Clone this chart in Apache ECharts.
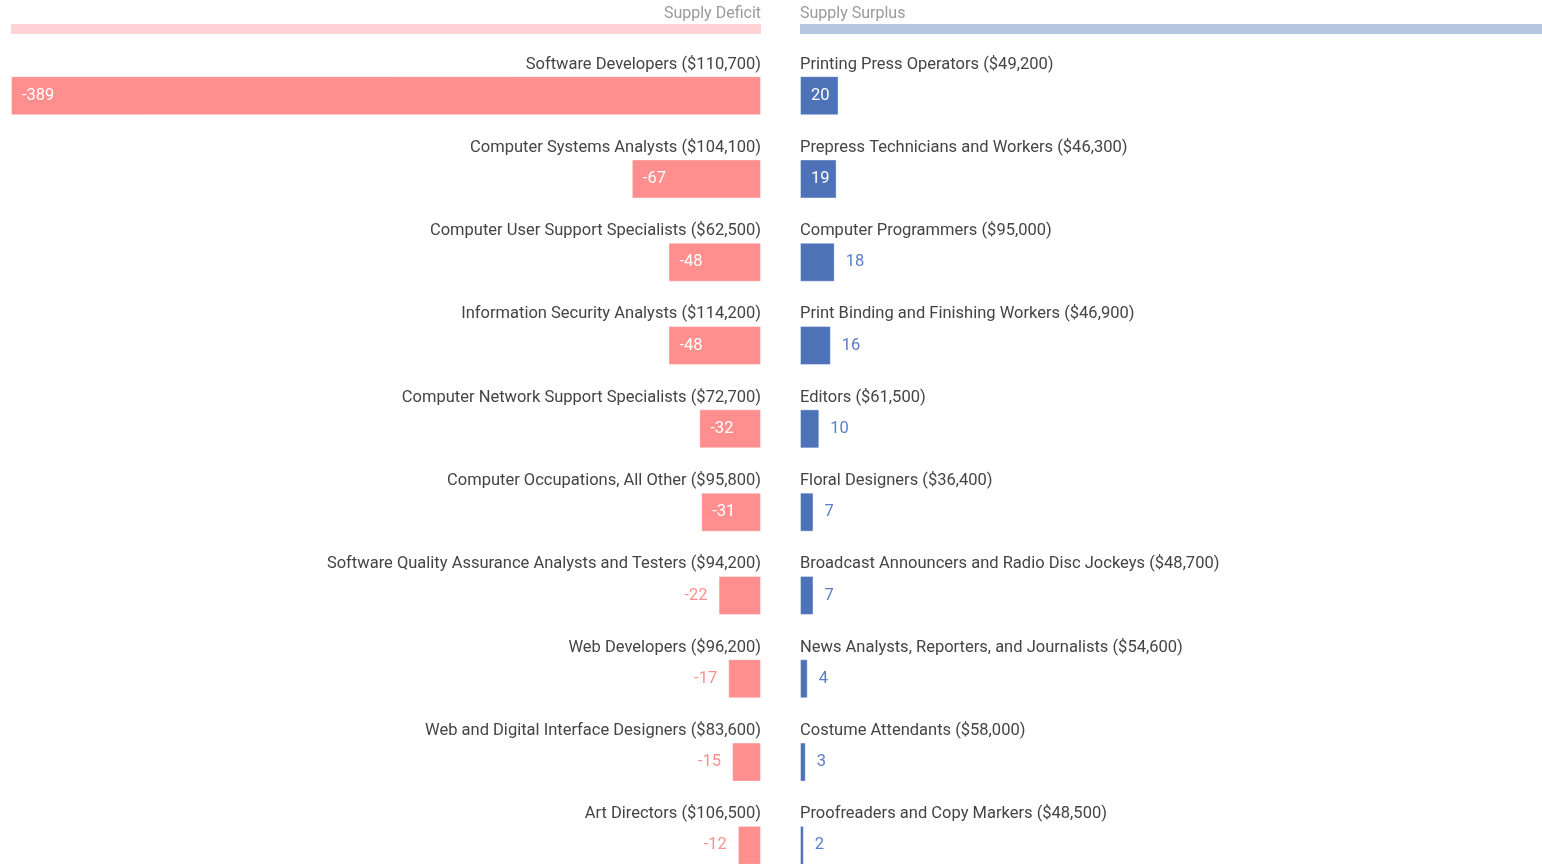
<!DOCTYPE html>
<html>
<head>
<meta charset="utf-8">
<style>
  html, body { margin: 0; padding: 0; background: #fff; }
  #chart { width: 1542px; height: 864px; }
</style>
<script src="https://cdn.jsdelivr.net/npm/echarts@6.0.0/dist/echarts.min.js"></script>
</head>
<body>
<div id="chart"></div>
<script>
// deficit side (left)
const deficitJobs = [
  'Software Developers', 'Computer Systems Analysts', 'Computer User Support Specialists',
  'Information Security Analysts', 'Computer Network Support Specialists', 'Computer Occupations, All Other',
  'Software Quality Assurance Analysts and Testers', 'Web Developers', 'Web and Digital Interface Designers',
  'Art Directors'
];
const deficitWages = [110700, 104100, 62500, 114200, 72700, 95800, 94200, 96200, 83600, 106500];
const deficitValues = [-389, -67, -48, -48, -32, -31, -22, -17, -15, -12];

// surplus side (right)
const surplusJobs = [
  'Printing Press Operators', 'Prepress Technicians and Workers', 'Computer Programmers',
  'Print Binding and Finishing Workers', 'Editors', 'Floral Designers',
  'Broadcast Announcers and Radio Disc Jockeys', 'News Analysts, Reporters, and Journalists',
  'Costume Attendants', 'Proofreaders and Copy Markers'
];
const surplusWages = [49200, 46300, 95000, 46900, 61500, 36400, 48700, 54600, 58000, 48500];
const surplusValues = [20, 19, 18, 16, 10, 7, 7, 4, 3, 2];

const PINK = '#ff8e8e';
const BLUE = '#4e72b8';
const FONT = 'Roboto';
const FS = 16.5;

const fmt = (name, wage) => name + ' ($' + wage.toLocaleString('en-US') + ')';
const deficitCats = deficitJobs.map((n, i) => fmt(n, deficitWages[i]));
const surplusCats = surplusJobs.map((n, i) => fmt(n, surplusWages[i]));

const gridTop = 54;
const gridHeight = 833;

function catAxis(gridIndex, cats, side) {
  return {
    type: 'category', gridIndex: gridIndex, data: cats, inverse: true,
    position: side, z: 10,
    axisLine: { show: false }, axisTick: { show: false },
    axisLabel: {
      inside: true, interval: 0, margin: 0, hideOverlap: false,
      fontFamily: FONT, fontSize: FS, color: '#444', lineHeight: 15.6,
      // push the name up above its bar: text line followed by 4 empty lines
      formatter: v => v + '\n\n\n\n'
    }
  };
}

function valAxis(gridIndex, min, max, headColor) {
  return {
    type: 'value', gridIndex: gridIndex, min: min, max: max,
    position: 'top', offset: 25,
    axisLine: { show: true, lineStyle: { color: headColor, width: 10, cap: 'butt' } },
    axisTick: { show: false }, axisLabel: { show: false }, splitLine: { show: false }
  };
}

const leftData = deficitValues.map(v => {
  const inside = Math.abs(v) >= 30;
  return {
    value: v,
    label: inside ? { position: 'insideLeft', color: '#fff' } : { position: 'left', color: PINK }
  };
});
const rightData = surplusValues.map(v => {
  const inside = v >= 19;
  return {
    value: v,
    label: inside ? { position: 'insideLeft', color: '#fff' } : { position: 'right', color: '#5b7ec7' }
  };
});

const headStyle = { fontFamily: FONT, fontSize: 16, fontWeight: 'normal', color: '#9a9a9a' };

const chart = echarts.init(document.getElementById('chart'));
chart.setOption({
  animation: false,
  title: [
    { text: 'Supply Deficit', right: 781, top: 6, padding: 0, textStyle: headStyle },
    { text: 'Supply Surplus', left: 800, top: 6, padding: 0, textStyle: headStyle }
  ],
  grid: [
    { left: 11, right: 781, top: gridTop, height: gridHeight, outerBoundsMode: 'none', containLabel: false },
    { left: 800, right: 0, top: gridTop, height: gridHeight, outerBoundsMode: 'none', containLabel: false }
  ],
  xAxis: [
    valAxis(0, -389, 0, '#ffd3d5'),
    valAxis(1, 0, 385, '#b6c7e1')
  ],
  yAxis: [
    catAxis(0, deficitCats, 'right'),
    catAxis(1, surplusCats, 'left')
  ],
  series: [
    {
      type: 'bar', xAxisIndex: 0, yAxisIndex: 0, data: leftData, barWidth: 39,
      itemStyle: { color: PINK, borderColor: 'rgba(255,255,255,0.4)', borderWidth: 1 },
      label: { show: true, distance: 11, fontFamily: FONT, fontSize: FS }
    },
    {
      type: 'bar', xAxisIndex: 1, yAxisIndex: 1, data: rightData, barWidth: 39,
      itemStyle: { color: BLUE, borderColor: 'rgba(255,255,255,0.4)', borderWidth: 1 },
      label: { show: true, distance: 11, fontFamily: FONT, fontSize: FS }
    }
  ]
});
</script>
</body>
</html>
